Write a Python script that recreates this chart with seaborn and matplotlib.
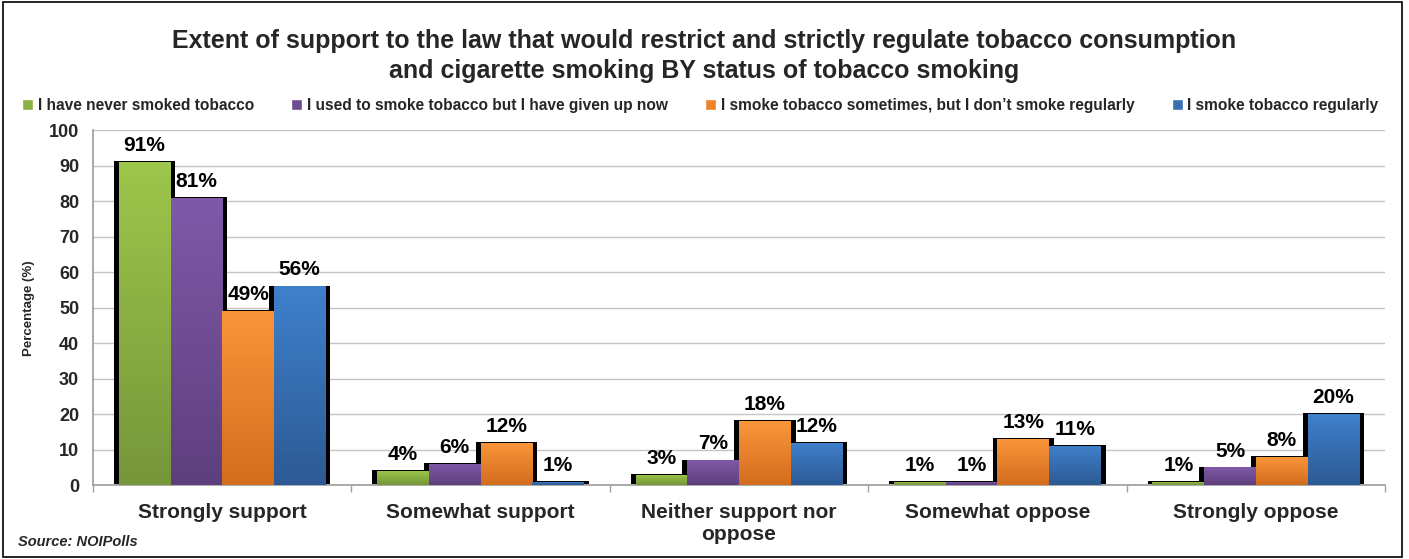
import numpy as np
import pandas as pd
import matplotlib
matplotlib.use("Agg")
import matplotlib.pyplot as plt
import matplotlib.patheffects as pe
from matplotlib.colors import LinearSegmentedColormap
from matplotlib.patches import Rectangle
import seaborn as sns

categories = ["Strongly support", "Somewhat support", "Neither support nor\noppose",
              "Somewhat oppose", "Strongly oppose"]
series = ["I have never smoked tobacco",
          "I used to smoke tobacco but I have given up now",
          "I smoke tobacco sometimes, but I don\u2019t smoke regularly",
          "I smoke tobacco regularly"]
never_smoked = [91, 4, 3, 1, 1]
gave_up = [81, 6, 7, 1, 5]
sometimes = [49, 12, 18, 13, 8]
regularly = [56, 1, 12, 11, 20]

top_colors = ["#9DC64B", "#7F59A8", "#F9963A", "#3F80CC"]
bot_colors = ["#76963A", "#5E3F7D", "#D46C1E", "#2D5A94"]
mid_colors = ["#8BB043", "#6E4C92", "#EC8229", "#376FB3"]

df = pd.DataFrame({
    "category": categories * 4,
    "status": sum([[s] * 5 for s in series], []),
    "value": never_smoked + gave_up + sometimes + regularly,
})

sns.set_theme(style="white")
plt.rcParams["font.family"] = ["Liberation Sans", "DejaVu Sans"]

fig = plt.figure(figsize=(14.09, 5.59), dpi=100)
ax = fig.add_axes([0.066, 0.132, 0.917, 0.635])

sns.barplot(data=df, x="category", y="value", hue="status", order=categories,
            hue_order=series, palette=mid_colors, width=0.8, saturation=1,
            ax=ax, legend=False, zorder=3)

ax.set_ylim(0, 100)
ax.set_yticks(range(0, 101, 10))
ax.yaxis.grid(True, color="#C4C4C4", linewidth=1, zorder=0)
ax.set_axisbelow(True)

shadow = [pe.SimplePatchShadow(offset=(-3.5, 0.6), shadow_rgbFace="black", alpha=1.0),
          pe.SimplePatchShadow(offset=(3.5, 0.6), shadow_rgbFace="black", alpha=1.0),
          pe.Normal()]
for ci, cont in enumerate(ax.containers):
    cmap = LinearSegmentedColormap.from_list("g", [bot_colors[ci], top_colors[ci]])
    for bar in cont:
        bar.set_edgecolor("none")
        bar.set_path_effects(shadow)
        x0, y0 = bar.get_x(), bar.get_y()
        w, h = bar.get_width(), bar.get_height()
        grad = np.linspace(0, 1, 64).reshape(-1, 1)
        im = ax.imshow(grad, cmap=cmap, origin="lower", aspect="auto",
                       extent=(x0, x0 + w, y0, y0 + h), zorder=4)
        im.set_clip_path(bar)
    ax.bar_label(cont, labels=[f"{int(v)}%" for v in cont.datavalues],
                 padding=5, fontsize=15, fontweight="bold", color="black", zorder=5)

ax.set_xlim(-0.5, len(categories) - 0.5)
ax.set_aspect("auto")
ax.set_xlabel("")
ax.set_ylabel("Percentage (%)", fontsize=9.5, fontweight="bold", labelpad=10)
ax.tick_params(axis="y", labelsize=13, length=0, pad=10)
for t in ax.get_yticklabels():
    t.set_fontweight("bold")
ax.tick_params(axis="x", labelsize=15, length=0, pad=13)
for t in ax.get_xticklabels():
    t.set_fontweight("bold")
ax.set_xticks(np.arange(-0.5, len(categories) + 0.5), minor=True)
ax.tick_params(axis="x", which="minor", length=5, color="#A0A0A0", bottom=True, direction="out")
for s in ["top", "right"]:
    ax.spines[s].set_visible(False)
ax.spines["left"].set_color("#A0A0A0")
ax.spines["bottom"].set_color("#A0A0A0")

fig.text(0.5, 0.9, "Extent of support to the law that would restrict and strictly regulate tobacco consumption\nand cigarette smoking BY status of tobacco smoking",
         ha="center", va="center", fontsize=18, fontweight="bold", linespacing=1.3)

handles = [Rectangle((0, 0), 1, 1, facecolor=c) for c in mid_colors]
fig.legend(handles, series, loc="center", bbox_to_anchor=(0.497, 0.812), ncol=4, frameon=False,
           prop={"weight": "bold", "size": 11.2}, handlelength=0.7, handleheight=0.7,
           handletextpad=0.3, columnspacing=2.4)

fig.text(0.013, 0.018, "Source: NOIPolls", fontsize=10.5, fontweight="bold", style="italic",
         ha="left", va="bottom")

fig.patches.append(Rectangle((0.002, 0.003), 0.993, 0.994, transform=fig.transFigure,
                             fill=False, edgecolor="black", linewidth=1.2))

fig.savefig("out.png", dpi=100)
